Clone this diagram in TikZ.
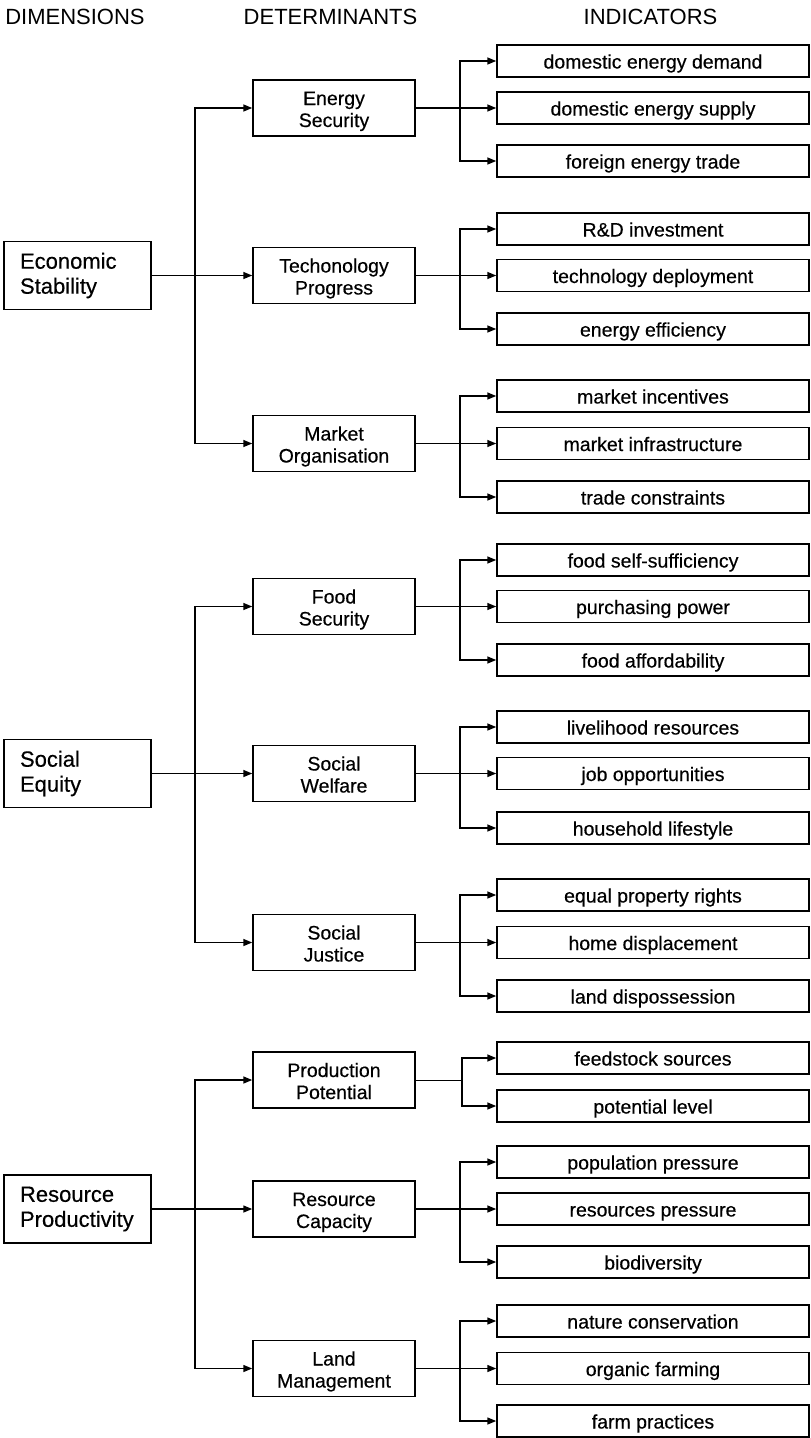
\documentclass[tikz,border=0pt]{standalone}
\usepackage{fontspec}
\setmainfont{Liberation Sans}
\newfontfamily\bodyfont{Liberation Sans}[FakeBold=0.4]
\usetikzlibrary{arrows.meta}
\begin{document}
\begin{tikzpicture}[x=1pt,y=-1pt,
 dimbox/.style={draw, line width=1.5pt, minimum height=68pt, text width=115pt, inner xsep=16pt, inner ysep=0pt, align=left, font=\bodyfont\fontsize{22}{25}\selectfont},
 detbox/.style={draw, line width=1.5pt, minimum width=162pt, minimum height=56pt, inner sep=0pt, align=center, text height=38pt, text depth=0pt, font=\bodyfont\fontsize{19.5}{22}\selectfont},
 indbox/.style={draw, line width=1.5pt, minimum width=312pt, minimum height=32pt, inner sep=0pt, text height=15pt, text depth=0pt, font=\bodyfont\fontsize{19.5}{22}\selectfont},
 hdr/.style={font=\fontsize{22}{25}\selectfont, inner sep=0pt},
 conn/.style={line width=1.5pt},
 arr/.style={conn, -{Triangle[length=9pt,width=7pt]}}
]
\useasboundingbox (0,0) rectangle (811,1438);

% headers
\node[hdr] (h1) at (75,17) {DIMENSIONS};
\node[hdr] (h2) at (330.5,17) {DETERMINANTS};
\node[hdr] (h3) at (650.5,17) {INDICATORS};

% dimensions
\node[dimbox] (D1) at (77.5,275.5) {Economic\\Stability};
\node[dimbox] (D2) at (77.5,773.5) {Social\\Equity};
\node[dimbox] (D3) at (77.5,1209) {Resource\\Productivity};

% determinants
\node[detbox] (T1) at (334,108) {Energy\\Security};
\node[detbox] (T2) at (334,275.5) {Techonology\\Progress};
\node[detbox] (T3) at (334,443.5) {Market\\Organisation};
\node[detbox] (T4) at (334,606.5) {Food\\Security};
\node[detbox] (T5) at (334,773.5) {Social\\Welfare};
\node[detbox] (T6) at (334,942.5) {Social\\Justice};
\node[detbox] (T7) at (334,1080) {Production\\Potential};
\node[detbox] (T8) at (334,1209) {Resource\\Capacity};
\node[detbox] (T9) at (334,1368.5) {Land\\Management};

% indicators
\node[indbox] (I11) at (653,61) {domestic energy demand};
\node[indbox] (I12) at (653,108) {domestic energy supply};
\node[indbox] (I13) at (653,161) {foreign energy trade};
\node[indbox] (I21) at (653,229) {R\&D investment};
\node[indbox] (I22) at (653,275.5) {technology deployment};
\node[indbox] (I23) at (653,329) {energy efficiency};
\node[indbox] (I31) at (653,396) {market incentives};
\node[indbox] (I32) at (653,443.5) {market infrastructure};
\node[indbox] (I33) at (653,497) {trade constraints};
\node[indbox] (I41) at (653,560) {food self-sufficiency};
\node[indbox] (I42) at (653,606.5) {purchasing power};
\node[indbox] (I43) at (653,660) {food affordability};
\node[indbox] (I51) at (653,727) {livelihood resources};
\node[indbox] (I52) at (653,773.5) {job opportunities};
\node[indbox] (I53) at (653,828) {household lifestyle};
\node[indbox] (I61) at (653,895) {equal property rights};
\node[indbox] (I62) at (653,942.5) {home displacement};
\node[indbox] (I63) at (653,996) {land dispossession};
\node[indbox] (I71) at (653,1058) {feedstock sources};
\node[indbox] (I72) at (653,1106) {potential level};
\node[indbox] (I81) at (653,1162) {population pressure};
\node[indbox] (I82) at (653,1209) {resources pressure};
\node[indbox] (I83) at (653,1262) {biodiversity};
\node[indbox] (I91) at (653,1321) {nature conservation};
\node[indbox] (I92) at (653,1368.5) {organic farming};
\node[indbox] (I93) at (653,1421) {farm practices};

% dimension -> determinants
\foreach \d/\a/\b/\c in {D1/T1/T2/T3, D2/T4/T5/T6, D3/T7/T8/T9}{
  \draw[arr] (\d.east) -- ++(43,0) |- (\a.west);
  \draw[arr] (\d.east) -- (\b.west);
  \draw[arr] (\d.east) -- ++(43,0) |- (\c.west);
}

% determinants -> indicators (three each)
\foreach \t/\a/\b/\c in {T1/I11/I12/I13, T2/I21/I22/I23, T3/I31/I32/I33,
                         T4/I41/I42/I43, T5/I51/I52/I53, T6/I61/I62/I63,
                         T8/I81/I82/I83, T9/I91/I92/I93}{
  \draw[arr] (\t.east) -- ++(44,0) |- (\a.west);
  \draw[arr] (\t.east) -- (\b.west);
  \draw[arr] (\t.east) -- ++(44,0) |- (\c.west);
}
% production potential (two, thinner feed line)
\draw[line width=1pt] (T7.east) -- ++(46,0);
\draw[arr] (T7.east) ++(46,0) |- (I71.west);
\draw[arr] (T7.east) ++(46,0) |- (I72.west);
\end{tikzpicture}
\end{document}
